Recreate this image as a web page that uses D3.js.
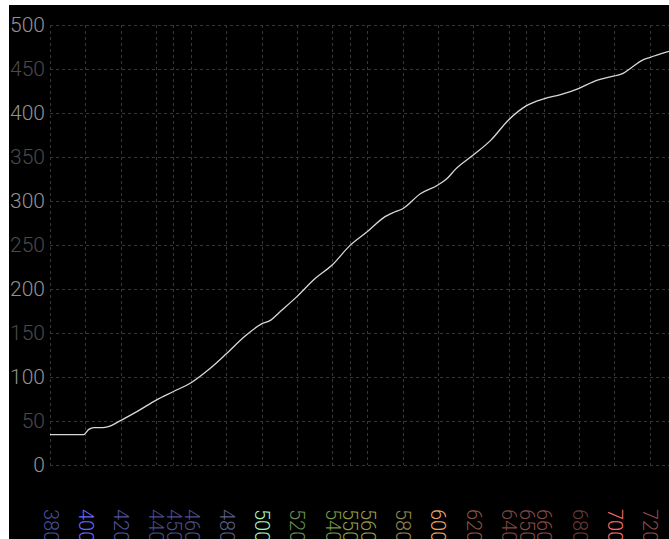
<!DOCTYPE html>
<html>
<head>
<meta charset="utf-8">
<script src="https://cdn.jsdelivr.net/npm/d3@7"></script>
<style>
  html, body { margin: 0; padding: 0; background: #ffffff; }
  svg { display: block; }
  text { font-family: Roboto, "Noto Sans", sans-serif; font-weight: 300; }
</style>
</head>
<body>
<script>
// Spectral sensitivity curve: wavelength (nm) vs. cumulative response
const wavelengths = [380, 385, 390, 395, 399, 402, 405, 410, 413, 420, 430, 440, 450, 460, 470, 480, 490, 500, 505, 510, 520, 530, 540, 550, 560, 570, 575, 580, 590, 600, 605, 610, 620, 630, 640, 650, 660, 670, 680, 690, 700, 705, 710, 716, 720, 731];
const responses   = [34, 34, 34, 34, 34, 40, 42, 42, 43, 50, 61, 73, 83, 93, 108, 126, 145, 160, 164, 173, 191, 211, 227, 249, 265, 282, 287, 291, 308, 318, 325, 336, 352, 369, 392, 408, 416, 421, 428, 437, 442, 445, 452, 460, 463, 470];

// Axis ticks
const xTicks = [380, 400, 420, 440, 450, 460, 480, 500, 520, 540, 550, 560, 580, 600, 620, 640, 650, 660, 680, 700, 720];
const yTicks = [0, 50, 100, 150, 200, 250, 300, 350, 400, 450, 500];

// Label colour for each wavelength tick (spectral hue)
const xTickColors = ["#4c4c9c", "#6666ff", "#51519c", "#4a4a86", "#4c4c88", "#4e4e86", "#5c5c84", "#a4f2bc", "#66904e", "#7a9442", "#8c9e48", "#969a50", "#948452", "#f2a464", "#8c5444", "#804640", "#844a44", "#824a48", "#6a3a38", "#ff6a6a", "#8e4a4a"];

const W = 669, H = 539;
const svg = d3.select("body").append("svg").attr("width", W).attr("height", H);

// Dark plotting panel
svg.append("rect").attr("x", 9).attr("y", 5).attr("width", W - 9).attr("height", H - 5).attr("fill", "#000000");

const x = d3.scaleLinear().domain([380, 731]).range([50, 669]);
const y = d3.scaleLinear().domain([0, 500]).range([464.5, 25]);

const grid = svg.append("g")
  .attr("stroke", "#363636")
  .attr("stroke-width", 1)
  .attr("stroke-dasharray", "3,3")
  .attr("shape-rendering", "crispEdges");

// Horizontal grid lines
grid.selectAll("line.h").data(yTicks).join("line")
  .attr("class", "h")
  .attr("x1", x(380)).attr("x2", W)
  .attr("y1", d => Math.round(y(d)) + 0.5).attr("y2", d => Math.round(y(d)) + 0.5);

// Vertical grid lines
grid.selectAll("line.v").data(xTicks).join("line")
  .attr("class", "v")
  .attr("x1", d => Math.round(x(d)) + 0.5).attr("x2", d => Math.round(x(d)) + 0.5)
  .attr("y1", y(500)).attr("y2", y(0));

// Y axis labels (hundreds brighter than the half-steps)
const yAxis = d3.axisLeft(y).tickValues(yTicks).tickSize(0).tickPadding(0);
const yg = svg.append("g").attr("transform", "translate(45,0)").call(yAxis);
yg.select(".domain").remove();
yg.selectAll("text")
  .attr("font-size", 21)
  .attr("font-family", "Roboto, sans-serif")
  .attr("fill", d => d % 100 === 0 ? "#929292" : "#4a4a4a");

// X axis labels, rotated to read downward
const xAxis = d3.axisBottom(x).tickValues(xTicks).tickSize(0).tickPadding(0);
const xg = svg.append("g").attr("transform", "translate(0,509)").call(xAxis);
xg.select(".domain").remove();
xg.selectAll("text")
  .attr("font-size", 20)
  .attr("font-family", "Roboto, sans-serif")
  .attr("transform", "rotate(90)")
  .attr("x", 0).attr("y", 0).attr("dy", "0.35em")
  .attr("text-anchor", "start")
  .attr("fill", (d, i) => xTickColors[i]);

// Response curve
const pts = wavelengths.map((w, i) => [w, responses[i]]);
const line = d3.line().x(d => x(d[0])).y(d => y(d[1])).curve(d3.curveMonotoneX);
svg.append("path")
  .datum(pts)
  .attr("d", line)
  .attr("fill", "none")
  .attr("stroke", "#d8d8d8")
  .attr("stroke-width", 1.3);
</script>
</body>
</html>
